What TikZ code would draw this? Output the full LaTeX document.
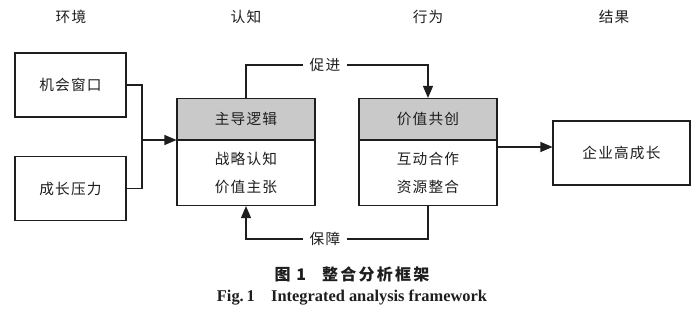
\documentclass[tikz,border=0pt]{standalone}
\usepackage{fontspec}
\setmainfont{Liberation Serif}
\newfontfamily\cjk[LetterSpace=8]{Noto Sans CJK SC}
\newfontfamily\cjkcap[LetterSpace=14]{Noto Sans CJK SC}
\usepackage{xcolor}
\usetikzlibrary{arrows.meta,positioning}
\definecolor{fwInk}{HTML}{1E1E1E}
\definecolor{fwHead}{HTML}{C9C9C9}
\tikzset{
  fw diagram/.style={font=\cjk\fontsize{11}{14}\selectfont, text=fwInk,
    line join=miter, x=0.75pt, y=-0.75pt},
  fw box/.style={draw=fwInk, fill=white, line width=0.8pt,
    minimum width=83.25pt, minimum height=48pt, inner sep=0pt, align=center},
  fw head/.style={fw box, fill=fwHead, minimum width=103.5pt, minimum height=30.75pt},
  fw body/.style={fw box, minimum width=103.5pt, minimum height=48.75pt,
    font=\cjk\fontsize{11}{21}\selectfont},
  fw line/.style={draw=fwInk, line width=0.8pt},
  fw arrow/.style={fw line, -{Triangle[length=9pt,width=7.5pt]}},
  fw label/.style={fill=white, inner sep=5pt},
  fw title/.style={font=\cjk\fontsize{11}{14}\selectfont}
}
\begin{document}
\begin{tikzpicture}[fw diagram]
\useasboundingbox[fill=white] (0,0) rectangle (700,322);
% column titles
\node[fw title] (tenv) at (71,17) {环境};
\node[fw title] (tcog) at (246,17) {认知};
\node[fw title] (tact) at (428,17) {行为};
\node[fw title] (tres) at (614,17) {结果};
% environment
\node[fw box] (chance) at (70.5,85) {机会窗口};
\node[fw box] (pressure) at (70.5,188.5) {成长压力};
% cognition and action
\node[fw head, anchor=south] (logichead) at (246,140) {主导逻辑};
\node[fw body, anchor=north] (logicbody) at (logichead.south) {战略认知\\价值主张};
\node[fw head, anchor=south] (valuehead) at (428,140) {价值共创};
\node[fw body, anchor=north] (valuebody) at (valuehead.south) {互动合作\\资源整合};
% outcome
\node[fw box, minimum width=102.75pt] (result) at (621.5,153) {企业高成长};
\node[fw label] (promote) at (325,65) {促进};
\node[fw label] (ensure) at (325,239) {保障};
% connectors
\coordinate (join) at (142,140);
\draw[fw line] (chance.east) -| (join);
\draw[fw line] (pressure.east) -| (join);
\draw[fw arrow] (join) -- (logichead.south west);
\draw[fw line] (logichead.north) |- (promote.west);
\draw[fw arrow] (promote.east) -| (valuehead.north);
\draw[fw line] (valuebody.south) |- (ensure.east);
\draw[fw arrow] (ensure.west) -| (logicbody.south);
\coordinate (out) at (497,147);
\draw[fw arrow] (out) -- (out -| result.west);
% caption
\node[font=\cjkcap\bfseries\fontsize{12}{14}\selectfont] (capcn) at (352,274) {图\ 1\quad 整合分析框架};
\node[font=\bfseries\fontsize{12.3}{14}\selectfont] (capen) at (352,298) {Fig.\,1\quad Integrated analysis framework};
\end{tikzpicture}
\end{document}
